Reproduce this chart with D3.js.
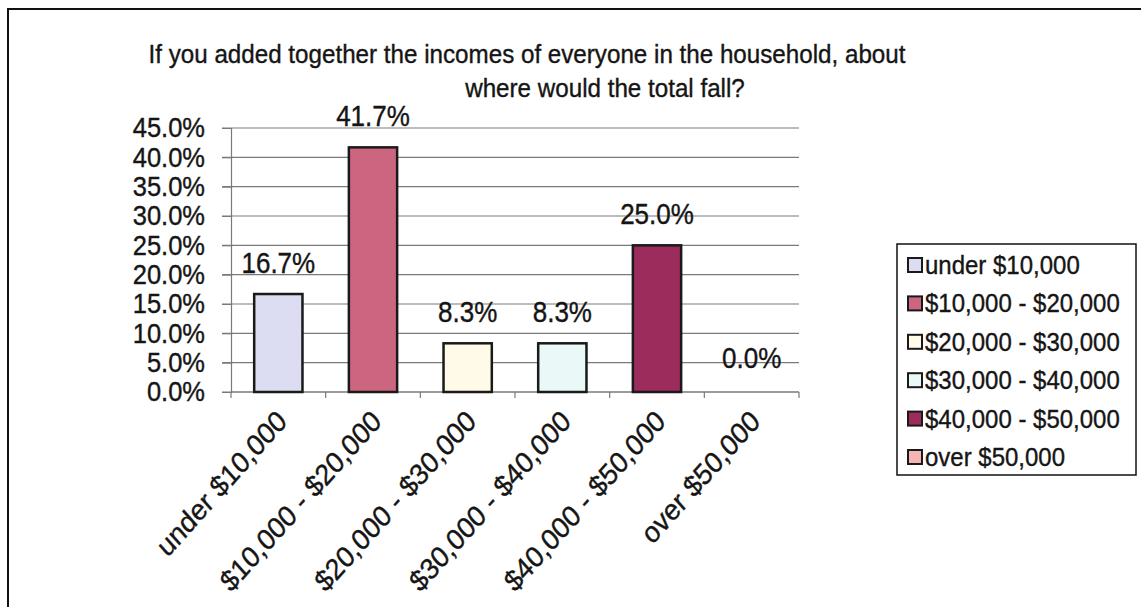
<!DOCTYPE html>
<html>
<head>
<meta charset="utf-8">
<script src="https://cdn.jsdelivr.net/npm/d3@7"></script>
<style>
  body { margin: 0; background: #fff; }
  text { font-family: "Liberation Sans", Arial, sans-serif; fill: #151515; stroke: #151515; stroke-width: 0.35px; }
</style>
</head>
<body>
<div id="chart"></div>
<script>
var categories = ["under $10,000", "$10,000 - $20,000", "$20,000 - $30,000",
    "$30,000 - $40,000", "$40,000 - $50,000", "over $50,000"];
var values = [16.7, 41.7, 8.3, 8.3, 25.0, 0.0];
var barColors = ["#dcdcf2", "#cc6680", "#fffbe8", "#eaf8f8", "#9c2c5c", "#f6b4b4"];
var yTicks = [0, 5, 10, 15, 20, 25, 30, 35, 40, 45];
var titleLines = ["If you added together the incomes of everyone in the household, about",
    "where would the total fall?"];

var width = 1141;
var height = 607;
// the scanned picture is a bit taller than wide, so text gets stretched
var stretch = 1.1;

var svg = d3.select("#chart")
    .append("svg")
    .attr("width", width)
    .attr("height", height);

// outer frame (right/bottom edges run off the picture)
svg.append("rect")
    .attr("x", 8)
    .attr("y", 9)
    .attr("width", width + 20)
    .attr("height", height + 20)
    .attr("fill", "none")
    .attr("stroke", "#111")
    .attr("stroke-width", 2);

// title
svg.append("text")
    .attr("transform", "translate(527,63) scale(1," + stretch + ")")
    .attr("text-anchor", "middle")
    .style("font-size", "24.2px")
    .text(titleLines[0]);
svg.append("text")
    .attr("transform", "translate(605,97) scale(1," + stretch + ")")
    .attr("text-anchor", "middle")
    .style("font-size", "24.2px")
    .text(titleLines[1]);

// scales
var x = d3.scaleBand()
    .domain(categories)
    .range([231, 799])
    .padding(0);

var y = d3.scaleLinear()
    .domain([0, 45])
    .range([392, 128]);

// gridlines
svg.append("g")
    .selectAll("line")
    .data(yTicks)
    .enter()
    .append("line")
    .attr("x1", 222)
    .attr("x2", 799)
    .attr("y1", function (d) { return y(d); })
    .attr("y2", function (d) { return y(d); })
    .attr("stroke", "#7a7a7a")
    .attr("stroke-width", 1.2);

// Y axis
var yAxis = svg.append("g")
    .attr("transform", "translate(231,0)")
    .call(d3.axisLeft(y)
        .tickValues(yTicks)
        .tickSize(9)
        .tickPadding(17)
        .tickFormat(function (d) { return d.toFixed(1) + "%"; }));
yAxis.select(".domain").attr("stroke", "#7a7a7a").attr("stroke-width", 1.2);
yAxis.selectAll(".tick line").attr("stroke", "#7a7a7a");
yAxis.selectAll(".tick text")
    .attr("transform", "scale(1," + stretch + ")")
    .style("font-size", "25.5px")
    .attr("fill", "#151515");

// X axis line and boundary ticks
svg.append("line")
    .attr("x1", 231)
    .attr("x2", 799)
    .attr("y1", y(0))
    .attr("y2", y(0))
    .attr("stroke", "#7a7a7a")
    .attr("stroke-width", 1.2);

svg.append("g")
    .selectAll("line")
    .data(categories.concat(["end"]))
    .enter()
    .append("line")
    .attr("x1", function (d, i) { return i < categories.length ? x(d) : x.range()[1]; })
    .attr("x2", function (d, i) { return i < categories.length ? x(d) : x.range()[1]; })
    .attr("y1", y(0))
    .attr("y2", y(0) + 6)
    .attr("stroke", "#7a7a7a")
    .attr("stroke-width", 1.2);

// X labels, rotated
svg.append("g")
    .selectAll("text")
    .data(categories)
    .enter()
    .append("text")
    .attr("transform", function (d) {
        return "translate(" + (x(d) + x.bandwidth() / 2 + 10) + "," + (y(0) + 31) + ") scale(1,1.12) rotate(-45)";
    })
    .attr("text-anchor", "end")
    .style("font-size", "26.5px")
    .text(function (d) { return d; });

// bars
var barW = x.bandwidth() * 0.51;
svg.append("g")
    .selectAll("rect")
    .data(values)
    .enter()
    .append("rect")
    .attr("x", function (d, i) { return x(categories[i]) + (x.bandwidth() - barW) / 2; })
    .attr("y", function (d) { return y(d); })
    .attr("width", barW)
    .attr("height", function (d) { return y(0) - y(d); })
    .attr("fill", function (d, i) { return barColors[i]; })
    .attr("stroke", function (d) { return d > 0 ? "#1a1a1a" : "none"; })
    .attr("stroke-width", 2.5);

// value labels
svg.append("g")
    .selectAll("text")
    .data(values)
    .enter()
    .append("text")
    .attr("transform", function (d, i) {
        var lx = x(categories[i]) + x.bandwidth() / 2;
        var ly = y(d) - (d > 0 ? 21 : 24);
        return "translate(" + lx + "," + ly + ") scale(1," + stretch + ")";
    })
    .attr("text-anchor", "middle")
    .style("font-size", "26px")
    .text(function (d) { return d.toFixed(1) + "%"; });

// legend
var legend = svg.append("g");
legend.append("rect")
    .attr("x", 897)
    .attr("y", 244)
    .attr("width", 239)
    .attr("height", 231)
    .attr("fill", "#fff")
    .attr("stroke", "#111")
    .attr("stroke-width", 1.5);

var rows = legend.selectAll("g.row")
    .data(categories)
    .enter()
    .append("g")
    .attr("class", "row")
    .attr("transform", function (d, i) { return "translate(908," + (265 + i * 38.4) + ")"; });
rows.append("rect")
    .attr("x", 0)
    .attr("y", -7)
    .attr("width", 14)
    .attr("height", 14)
    .attr("fill", function (d, i) { return barColors[i]; })
    .attr("stroke", "#1a1a1a")
    .attr("stroke-width", 2);
rows.append("text")
    .attr("transform", "translate(17,9) scale(1," + stretch + ")")
    .style("font-size", "24px")
    .text(function (d) { return d; });
</script>
</body>
</html>
